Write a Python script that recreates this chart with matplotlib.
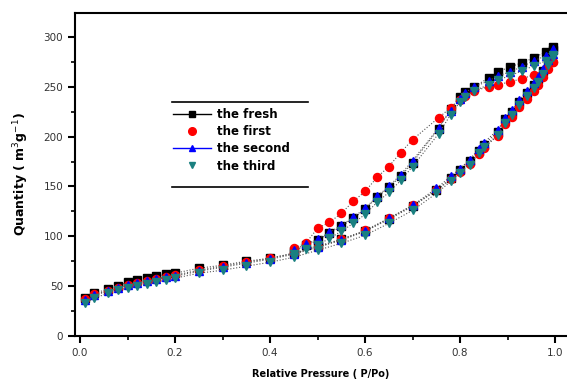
import numpy as np
import matplotlib
matplotlib.use('Agg')
import matplotlib.pyplot as plt
from matplotlib.lines import Line2D
from matplotlib.ticker import MultipleLocator

# adsorption branch (relative pressure, quantity)
p_ads = [0.01, 0.03, 0.06, 0.08, 0.10, 0.12, 0.14, 0.16, 0.18, 0.20, 0.25, 0.30,
         0.35, 0.40, 0.45, 0.50, 0.55, 0.60, 0.65, 0.70, 0.75, 0.78, 0.80, 0.82,
         0.84, 0.85, 0.88, 0.895, 0.91, 0.925, 0.94, 0.955, 0.965, 0.975, 0.985, 0.995]
fresh_ads = [38, 43, 47, 50, 54, 56, 58, 60, 62, 63, 68, 71, 75, 78, 83, 90, 97, 105,
             117, 130, 146, 158, 167, 176, 186, 192, 205, 218, 225, 235, 244, 252,
             258, 266, 275, 287]
first_ads = [37, 42, 45, 48, 51, 53, 55, 57, 59, 61, 66, 70, 74, 78, 83, 89, 97, 106,
             118, 131, 146, 157, 165, 173, 183, 189, 201, 213, 220, 230, 238, 246,
             252, 260, 268, 275]
second_ads = [36, 41, 45, 48, 51, 53, 55, 57, 59, 60, 65, 69, 73, 77, 82, 89, 96, 105,
              118, 131, 148, 160, 168, 177, 188, 194, 207, 219, 227, 237, 246, 254,
              260, 268, 277, 283]
third_ads = [33, 38, 43, 46, 48, 50, 52, 54, 56, 58, 63, 66, 70, 74, 79, 86, 93, 101,
             113, 126, 143, 155, 164, 172, 184, 190, 202, 214, 222, 232, 241, 249,
             255, 263, 272, 280]

# desorption branch
p_des = [0.995, 0.98, 0.955, 0.93, 0.905, 0.88, 0.86, 0.83, 0.81, 0.80, 0.78, 0.755,
         0.70, 0.675, 0.65, 0.625, 0.60, 0.575, 0.55, 0.525, 0.50, 0.475, 0.45]
fresh_des = [290, 285, 279, 274, 270, 265, 259, 250, 245, 240, 228, 208, 174, 160,
             149, 139, 127, 118, 110, 103, 96, 91, 85]
first_des = [275, 268, 262, 258, 255, 252, 250, 246, 241, 237, 229, 219, 197, 184,
             170, 159, 145, 135, 123, 114, 108, 93, 88]
second_des = [288, 281, 276, 270, 265, 261, 256, 250, 244, 238, 226, 209, 176, 162,
              150, 140, 128, 119, 111, 104, 97, 92, 86]
third_des = [282, 276, 271, 266, 261, 257, 252, 246, 240, 235, 222, 203, 170, 156,
             144, 134, 122, 113, 105, 98, 91, 87, 82]

labels = ['the fresh', 'the first', 'the second', 'the third']
teal = '#1a8080'

fig = plt.figure(figsize=(5.67, 3.83), dpi=100)
ax = fig.add_axes([75 / 567, 47 / 383, 492 / 567, 323 / 383])

series = [
    (fresh_ads, fresh_des, 'black', 's', 5.2),
    (first_ads, first_des, 'red', 'o', 5.8),
    (second_ads, second_des, 'blue', '^', 5.5),
    (third_ads, third_des, teal, 'v', 5.5),
]
for ads, des, c, m, ms in series:
    ax.plot(p_ads, ads, linestyle=':', color='#555555', lw=0.8,
            marker=m, ms=ms, mfc=c, mec=c)
    ax.plot(p_des, des, linestyle=':', color='#555555', lw=0.8,
            marker=m, ms=ms, mfc=c, mec=c)

ax.set_xlim(-0.0105, 1.025)
ax.set_ylim(0, 324)
ax.xaxis.set_major_locator(MultipleLocator(0.2))
ax.xaxis.set_minor_locator(MultipleLocator(0.1))
ax.yaxis.set_major_locator(MultipleLocator(50))
ax.yaxis.set_minor_locator(MultipleLocator(25))
ax.set_xticks([0, 0.2, 0.4, 0.6, 0.8, 1.0])
ax.set_xticklabels(['0.0', '0.2', '0.4', '0.6', '0.8', '1.0'])
ax.tick_params(which='major', direction='out', length=5, width=1.5,
               labelsize=7.5, labelcolor='#333333')
ax.tick_params(which='minor', direction='out', length=3, width=1.2)
ax.spines['right'].set_visible(False)
for s in ['left', 'bottom', 'top']:
    ax.spines[s].set_linewidth(1.5)

ax.set_ylabel('Quantity ( m$^3$g$^{-1}$)', fontsize=9, fontweight='bold', labelpad=9)
ax.set_xlabel('Relative Pressure ( P/Po)', fontsize=7, fontweight='bold', labelpad=8)

handles = [
    Line2D([], [], color='black', marker='s', ms=5, lw=1),
    Line2D([], [], color='red', marker='o', ms=5.5, lw=0),
    Line2D([], [], color='blue', marker='^', ms=5, lw=1),
    Line2D([], [], color=teal, marker='v', ms=5, lw=0),
]
leg = ax.legend(handles, labels, loc='upper left', bbox_to_anchor=(0.19, 0.72),
                frameon=False, prop={'weight': 'bold', 'size': 8.5},
                handlelength=3.2, labelspacing=0.35, handletextpad=0.5,
                borderaxespad=0)
fig.add_artist(Line2D([172 / 567, 308 / 567], [1 - 102 / 383, 1 - 102 / 383],
                      color='black', lw=1.2, transform=fig.transFigure))
fig.add_artist(Line2D([172 / 567, 308 / 567], [1 - 187 / 383, 1 - 187 / 383],
                      color='black', lw=1.2, transform=fig.transFigure))

fig.savefig('out.png', dpi=100)
